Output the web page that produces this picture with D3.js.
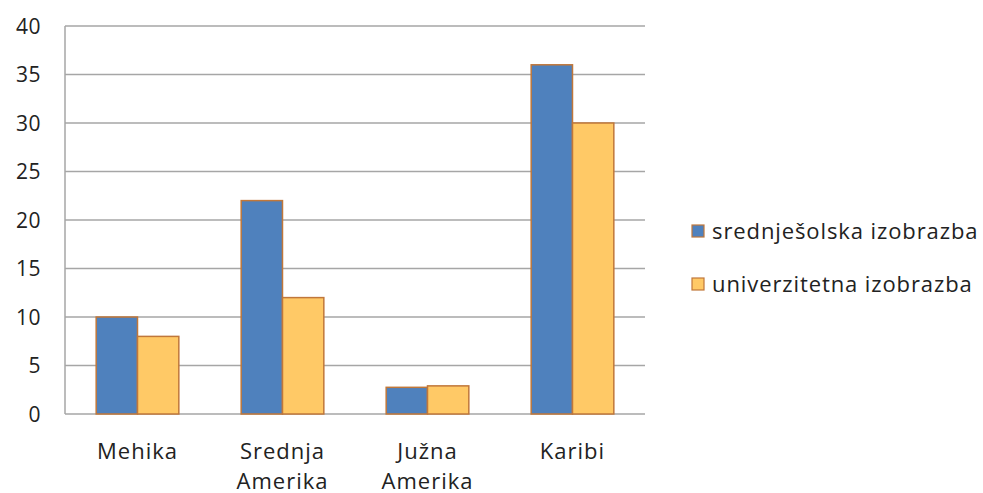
<!DOCTYPE html>
<html>
<head>
<meta charset="utf-8">
<script src="https://cdn.jsdelivr.net/npm/d3@7"></script>
<style>
  body { margin: 0; background: #fff; }
  text { font-family: "Open Sans", Lato, sans-serif; fill: #222; }
</style>
</head>
<body>
<div class="svg-chart"></div>
<script>
const categories = [["Mehika"], ["Srednja", "Amerika"], ["Južna", "Amerika"], ["Karibi"]];
const seriesNames = ["srednješolska izobrazba", "univerzitetna izobrazba"];
const highSchool = [10, 22, 2.75, 36];
const university = [8, 12, 2.9, 30];
const yTicks = [0, 5, 10, 15, 20, 25, 30, 35, 40];
const colors = ["#4F81BD", "#FFC966"];

const width = 983, height = 493;
const margin = { top: 26, right: 338, bottom: 79, left: 65 };

const svg = d3.select(".svg-chart").append("svg")
    .attr("width", width)
    .attr("height", height);

const x = d3.scaleBand()
    .domain(d3.range(categories.length))
    .range([margin.left, width - margin.right])
    .paddingInner(0.43)
    .paddingOuter(0.215);

const sub = d3.scaleBand()
    .domain([0, 1])
    .range([0, x.bandwidth()]);

const y = d3.scaleLinear()
    .domain([0, 40])
    .range([height - margin.bottom, margin.top]);

// gridlines
svg.append("g")
    .selectAll("line")
    .data(yTicks)
    .enter()
    .append("line")
    .attr("x1", margin.left)
    .attr("x2", width - margin.right)
    .attr("y1", d => y(d))
    .attr("y2", d => y(d))
    .attr("stroke", "#A6A6A6")
    .attr("stroke-width", 1.5);

// left axis line
svg.append("line")
    .attr("x1", margin.left).attr("x2", margin.left)
    .attr("y1", y(40)).attr("y2", y(0))
    .attr("stroke", "#A6A6A6")
    .attr("stroke-width", 1.5);

// y tick labels
svg.append("g")
    .selectAll("text")
    .data(yTicks)
    .enter()
    .append("text")
    .attr("x", 41)
    .attr("y", d => y(d))
    .attr("dy", "0.36em")
    .attr("text-anchor", "end")
    .style("font-size", "21px")
    .style("letter-spacing", "0.5px")
    .text(d => d);

// bars
const data = [highSchool, university];
data.forEach((values, s) => {
    svg.append("g")
        .selectAll("rect")
        .data(values)
        .enter()
        .append("rect")
        .attr("x", (d, i) => x(i) + sub(s))
        .attr("y", d => y(d))
        .attr("width", sub.bandwidth())
        .attr("height", d => y(0) - y(d))
        .attr("fill", colors[s])
        .attr("stroke", "#C0773A")
        .attr("stroke-width", 1.5);
});

// category labels
const catGroup = svg.append("g");
categories.forEach((lines, i) => {
    const t = catGroup.append("text")
        .attr("x", x(i) + x.bandwidth() / 2)
        .attr("y", 459)
        .attr("text-anchor", "middle")
        .style("font-size", "22px")
        .style("letter-spacing", "1px");
    lines.forEach((line, j) => {
        t.append("tspan")
            .attr("x", x(i) + x.bandwidth() / 2)
            .attr("dy", j === 0 ? 0 : 30)
            .text(line);
    });
});

// legend
const legend = svg.append("g");
seriesNames.forEach((name, i) => {
    const ly = 231 + i * 53;
    legend.append("rect")
        .attr("x", 692)
        .attr("y", ly - 6)
        .attr("width", 12)
        .attr("height", 12)
        .attr("fill", colors[i])
        .attr("stroke", "#C0773A")
        .attr("stroke-width", 1.2);
    legend.append("text")
        .attr("x", 712)
        .attr("y", ly)
        .attr("dy", "0.36em")
        .style("font-size", "22px")
        .style("letter-spacing", "0.9px")
        .text(name);
});
</script>
</body>
</html>
